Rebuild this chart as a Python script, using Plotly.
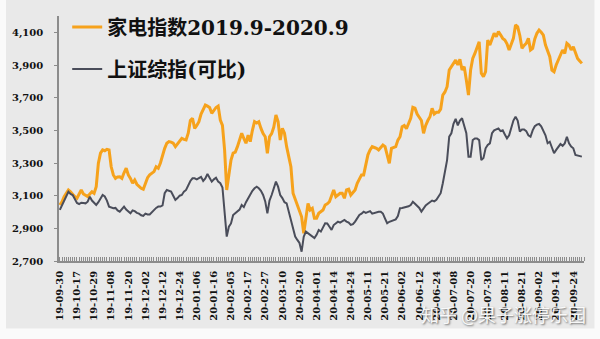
import plotly.graph_objects as go

# Trading-day series, 2019-09-30 .. 2020-09-30 (one value per trading day)
home_appliance = [
    3043, 3063, 3094, 3115, 3135, 3124, 3105, 3094, 3084, 3110,
    3135, 3110, 3100, 3094, 3110, 3124, 3114, 3155, 3298, 3360,
    3380, 3375, 3384, 3380, 3277, 3227, 3206, 3215, 3216, 3206,
    3240, 3268, 3227, 3206, 3176, 3196, 3170, 3155, 3145, 3139,
    3170, 3210, 3227, 3235, 3247, 3277, 3268, 3300, 3349, 3390,
    3421, 3431, 3428, 3421, 3400, 3415, 3431, 3451, 3445, 3441,
    3482, 3560, 3574, 3512, 3530, 3553, 3600, 3624, 3655, 3648,
    3640, 3604, 3625, 3640, 3649, 3563, 3530, 3380, 3135, 3237,
    3318, 3361, 3367, 3400, 3441, 3482, 3450, 3421, 3470, 3431,
    3500, 3553, 3545, 3553, 3512, 3480, 3461, 3360, 3461, 3480,
    3520, 3594, 3553, 3441, 3512, 3482, 3400, 3340, 3277, 3115,
    3080, 3053, 3012, 2971, 2870, 2951, 3053, 3012, 3022, 2962,
    2962, 2992, 3000, 3012, 3043, 3050, 3063, 3094, 3135, 3094,
    3105, 3115, 3115, 3084, 3135, 3140, 3104, 3120, 3135, 3176,
    3200, 3227, 3227, 3298, 3350, 3380, 3400, 3395, 3390, 3380,
    3395, 3410, 3400, 3339, 3298, 3390, 3395, 3400, 3440, 3461,
    3522, 3530, 3510, 3540, 3574, 3641, 3636, 3600, 3583, 3560,
    3482, 3530, 3560, 3583, 3635, 3600, 3610, 3610, 3630, 3716,
    3735, 3767, 3869, 3890, 3910, 3930, 3900, 3935, 3869, 3890,
    3808, 3716, 3869, 3940, 3971, 4012, 4042, 3849, 3828, 3859,
    4053, 4022, 4063, 4094, 4073, 4104, 4085, 4063, 4053, 4030,
    3992, 4030, 4063, 4145, 4134, 4080, 4002, 4020, 4033, 4063,
    3992, 4002, 4060, 4094, 4114, 4100, 4083, 4022, 3981, 3951,
    3869, 3859, 3900, 3930, 3961, 3992, 3971, 4033, 4022, 3992,
    4012, 3971, 3940, 3925, 3910,
]

sse_comparable = [
    3013, 3043, 3070, 3100, 3124, 3110, 3104, 3080, 3055, 3049,
    3057, 3055, 3053, 3063, 3094, 3070, 3055, 3043, 3060, 3080,
    3104, 3095, 3070, 3033, 3028, 3023, 3025, 3010, 3002, 3020,
    3033, 3015, 3000, 2992, 3010, 3005, 2995, 2990, 2980, 2976,
    2990, 2985, 2985, 3000, 3015, 3025, 3033, 3033, 3040, 3115,
    3135, 3130, 3125, 3100, 3074, 3085, 3100, 3104, 3125, 3135,
    3165, 3190, 3206, 3206, 3200, 3206, 3215, 3190, 3205, 3233,
    3205, 3186, 3200, 3210, 3186, 3176, 3150, 2992, 2849, 2910,
    2930, 2982, 2995, 3005, 3015, 3043, 3030, 3060, 3085, 3104,
    3130, 3145, 3155, 3145, 3130, 3104, 3065, 2992, 3070, 3104,
    3150, 3186, 3155, 3104, 3085, 3060, 3053, 3000, 2950, 2890,
    2850, 2829, 2810, 2757, 2849, 2880, 2870, 2860, 2849, 2840,
    2860, 2890, 2880, 2910, 2931, 2930, 2910, 2890, 2920, 2931,
    2941, 2935, 2945, 2951, 2941, 2935, 2921, 2925, 2941, 2960,
    2982, 2990, 3002, 2995, 3000, 3005, 2990, 2995, 3000, 3002,
    3002, 2990, 2960, 2931, 2940, 2945, 2950, 2955, 2975, 3023,
    3025, 3028, 3030, 3035, 3043, 3063, 3050, 3040, 3025, 3002,
    3025, 3040, 3050, 3063, 3070, 3065, 3075, 3095, 3115, 3176,
    3237, 3318, 3461, 3482, 3540, 3570, 3530, 3560, 3574, 3533,
    3482, 3339, 3339, 3441, 3450, 3450, 3440, 3318, 3330, 3390,
    3410, 3420, 3482, 3500, 3505, 3512, 3495, 3500, 3475, 3451,
    3470, 3520, 3560, 3583, 3560, 3492, 3505, 3505, 3495, 3470,
    3461, 3500, 3525, 3535, 3539, 3525, 3500, 3470, 3421, 3430,
    3395, 3360, 3380, 3400, 3416, 3405, 3420, 3461, 3420, 3400,
    3390, 3349, 3345, 3340, 3339,
]

# Date labels shown every 8 trading days
tick_labels = [
    "19-09-30", "19-10-17", "19-10-29", "19-11-08", "19-11-20", "19-12-02",
    "19-12-12", "19-12-24", "20-01-06", "20-01-16", "20-02-05", "20-02-17",
    "20-02-27", "20-03-10", "20-03-20", "20-04-01", "20-04-14", "20-04-24",
    "20-05-11", "20-05-21", "20-06-02", "20-06-12", "20-06-24", "20-07-08",
    "20-07-20", "20-07-30", "20-08-11", "20-08-21", "20-09-02", "20-09-14",
    "20-09-24",
]
label_step = 8

series_names = ["家电指数2019.9-2020.9", "上证综指(可比)"]

x = list(range(len(home_appliance)))
tickvals = [i * label_step for i in range(len(tick_labels))]

SERIF = "DejaVu Serif, Noto Sans CJK SC, serif"
ORANGE = "#f6a21c"
SLATE = "#4a4d5a"
AXIS = "#8c8c8c"

fig = go.Figure()
fig.add_trace(go.Scatter(
    x=x, y=home_appliance, mode="lines", name=series_names[0],
    line=dict(color=ORANGE, width=3), legendgroup="a",
))
fig.add_trace(go.Scatter(
    x=x, y=sse_comparable, mode="lines", name=series_names[1],
    line=dict(color=SLATE, width=2), legendgroup="b",
))

# paper-toned backdrop behind the whole chart
fig.add_shape(
    type="rect", xref="paper", yref="paper", layer="below",
    x0=-0.101, x1=1.02, y0=-0.275, y1=1.07,
    fillcolor="#e9e9e9", line=dict(width=0),
)

fig.update_layout(
    width=600, height=339,
    margin=dict(l=59, r=16, t=16, b=78, autoexpand=False),
    paper_bgcolor="#fafafa",
    plot_bgcolor="rgba(0,0,0,0)",
    showlegend=True,
    legend=dict(
        xref="container", yref="container",
        x=0.112, y=0.978, xanchor="left", yanchor="top",
        bgcolor="rgba(0,0,0,0)", borderwidth=0,
        font=dict(family=SERIF, size=20, color="#111111", weight="bold"),
        itemwidth=30, tracegroupgap=13, traceorder="grouped",
    ),
    xaxis=dict(
        range=[-0.4, 245],
        showgrid=False, zeroline=False,
        showline=True, linecolor=AXIS, linewidth=1.5,
        tickmode="array", tickvals=tickvals, ticktext=tick_labels,
        tickangle=-90, ticks="", ticklabelstandoff=4,
        tickfont=dict(family=SERIF, size=10, color="#111111", weight="bold"),
        minor=dict(ticks="inside", dtick=1, tick0=0, ticklen=4,
                   tickcolor=AXIS, tickwidth=1),
    ),
    yaxis=dict(
        range=[2700, 4200], tick0=2700, dtick=200,
        tickformat=",d",
        showgrid=False, zeroline=False,
        showline=True, linecolor=AXIS, linewidth=1.5,
        ticks="outside", ticklen=3, tickcolor=AXIS,
        ticklabelstandoff=9,
        tickfont=dict(family=SERIF, size=10, color="#111111", weight="bold"),
    ),
    annotations=[dict(
        text="知乎 @果子涨停乐园", xref="paper", yref="paper",
        x=0.846, y=-0.218, xanchor="center", yanchor="middle",
        showarrow=False,
        font=dict(family="Noto Sans CJK SC", size=18,
                  color="rgba(255,255,255,0.92)",
                  shadow="1px 1px 2px rgba(0,0,0,0.6)"),
    )],
)

fig.write_html("out.html")
